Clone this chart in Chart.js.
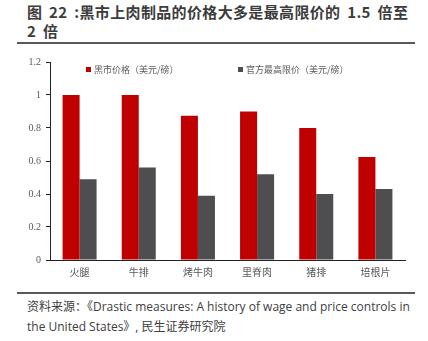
<!DOCTYPE html>
<html>
<head>
<meta charset="utf-8">
<script src="https://cdn.jsdelivr.net/npm/chart.js@4"></script>
<style>
    body { margin: 0; width: 428px; height: 341px; background: #fff; position: relative; overflow: hidden; }
    #titel { position: absolute; left: 27px; top: 2px; font: bold 15px "Noto Sans CJK SC", sans-serif; line-height: 19px; color: #3c3c3c; word-spacing: 3px; letter-spacing: 0.35px; white-space: nowrap; }
    .linie { position: absolute; left: 17px; width: 398px; height: 2px; background: #595959; }
    #box { position: absolute; left: 0; top: 48px; width: 428px; height: 236px; }
    #legende div { position: absolute; top: 64px; font: 9px "Noto Sans CJK SC", sans-serif; color: #595959; white-space: nowrap; line-height: 12px; }
    #legende span { display: inline-block; width: 5px; height: 5px; margin-right: 3px; vertical-align: 1px; }
    #quelle { position: absolute; left: 27px; top: 297px; font: 12px "Open Sans", "Noto Sans CJK SC", sans-serif; line-height: 20px; color: #404040; white-space: nowrap; }
</style>
</head>
<body>
<div id="titel">图 22 :黑市上肉制品的价格大多是最高限价的 1.5 倍至<br>2 倍</div>
<div class="linie" style="top:42px"></div>
<div id="box"><canvas id="fleisch"></canvas></div>
<div id="legende"></div>
<div class="linie" style="top:292px"></div>
<div id="quelle">资料来源：《Drastic measures: A history of wage and price controls in<br>the United States》, 民生证券研究院</div>
<script>
const kategorien = ["火腿", "牛排", "烤牛肉", "里脊肉", "猪排", "培根片"];
const schwarzmarkt = [1.0, 1.0, 0.875, 0.9, 0.8, 0.625];
const hoechstpreis = [0.49, 0.56, 0.39, 0.52, 0.40, 0.43];
const yTicks = [0, 0.2, 0.4, 0.6, 0.8, 1, 1.2];

const farben = ["#c00000", "#4e4e50"];
const serien = [
    { label: "黑市价格（美元/磅）", data: schwarzmarkt },
    { label: "官方最高限价（美元/磅）", data: hoechstpreis },
];

// Legende als HTML, sitzt im Diagramm oben
const legende = document.getElementById("legende");
const legendeX = [86, 238];
serien.forEach(function (s, i) {
    const el = document.createElement("div");
    el.style.left = legendeX[i] + "px";
    el.innerHTML = '<span style="background:' + farben[i] + '"></span>' + s.label;
    legende.appendChild(el);
});

new Chart(document.getElementById("fleisch"), {
    type: "bar",
    data: {
        labels: kategorien,
        datasets: serien.map(function (s, i) {
            return {
                label: s.label,
                data: s.data,
                backgroundColor: farben[i],
                categoryPercentage: 0.575,
                barPercentage: 1,
            };
        }),
    },
    options: {
        responsive: true,
        maintainAspectRatio: false,
        animation: false,
        layout: { padding: { top: 14, right: 23, left: 0, bottom: 0 } },
        plugins: {
            legend: { display: false },
            tooltip: { enabled: false },
        },
        scales: {
            x: {
                grid: { drawOnChartArea: false, drawTicks: false },
                border: { color: "#222", width: 1 },
                ticks: {
                    padding: 6,
                    color: "#595959",
                    font: { family: "Noto Sans CJK SC", size: 10 },
                },
                afterFit: function (scale) { scale.height = 24; },
            },
            y: {
                min: 0,
                max: 1.2,
                afterBuildTicks: function (scale) {
                    scale.ticks = yTicks.map(function (v) { return { value: v }; });
                },
                grid: { drawOnChartArea: false, drawTicks: true, tickLength: 4, color: "#222" },
                border: { color: "#222", width: 1 },
                ticks: {
                    padding: 5,
                    color: "#595959",
                    font: { family: "Liberation Serif", size: 10 },
                    callback: function (v) { return String(Math.round(v * 10) / 10); },
                },
                afterFit: function (scale) { scale.width = 50; },
            },
        },
    },
});
</script>
</body>
</html>
